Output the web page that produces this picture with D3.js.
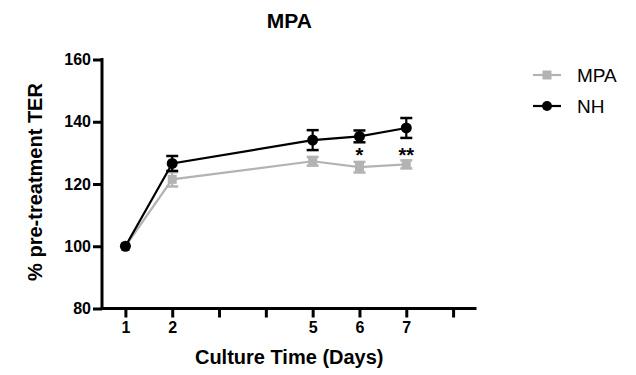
<!DOCTYPE html>
<html>
<head>
<meta charset="utf-8">
<script src="https://cdn.jsdelivr.net/npm/d3@7"></script>
<style>
  body { margin: 0; background: #fff; }
  svg text { font-family: Arial, 'Liberation Sans', Helvetica, sans-serif; }
</style>
</head>
<body>
<div id="chart"></div>
<script>
// ----------- DATA ------------
const days = [1, 2, 5, 6, 7];
const mpaMean = [100, 121.5, 127.3, 125.4, 126.3];
const mpaErr = [0.6, 2.3, 1.4, 1.7, 1.3];
const nhMean = [100, 126.6, 134.1, 135.3, 138.0];
const nhErr = [0.6, 2.4, 3.2, 1.9, 3.2];
const xTicks = [1, 2, 3, 4, 5, 6, 7, 8];
const xTickLabels = { 1: '1', 2: '2', 5: '5', 6: '6', 7: '7' };
const yTicks = [80, 100, 120, 140, 160];
const stars = [{ day: 6, text: '*' }, { day: 7, text: '**' }];

const width = 636, height = 375;
const margin = { left: 102, right: 160, top: 60, bottom: 67 };

const svg = d3.select('#chart').append('svg')
  .attr('width', width).attr('height', height);

const x = d3.scaleLinear().domain([0.5, 8.5]).range([margin.left, width - margin.right + 0.5]);
const y = d3.scaleLinear().domain([80, 160]).range([height - margin.bottom + 0.5, margin.top - 0.5]);

const series = [
  { key: 'MPA', color: '#b3b3b3', mean: mpaMean, err: mpaErr, shape: 'square' },
  { key: 'NH', color: '#000000', mean: nhMean, err: nhErr, shape: 'circle' },
];

// ----------- AXES ------------
const xAxis = svg.append('g')
  .attr('transform', `translate(0, ${y(80)})`)
  .call(d3.axisBottom(x).tickValues(xTicks).tickSize(9).tickPadding(4)
    .tickFormat(d => xTickLabels[d] || ''));
xAxis.select('.domain').attr('stroke-width', 3).attr('d', `M${x(0.5) - 1.5},0H${x(8.5)}`);
xAxis.selectAll('.tick line').attr('stroke-width', 3);
xAxis.selectAll('.tick text').attr('font-size', 16).attr('font-weight', 'bold').attr('fill', '#000');

const yAxis = svg.append('g')
  .attr('transform', `translate(${x(0.5)}, 0)`)
  .call(d3.axisLeft(y).tickValues(yTicks).tickSize(9).tickPadding(2));
yAxis.select('.domain').attr('stroke-width', 3).attr('d', `M0,${y(160) - 1.5}V${y(80) + 1.5}`);
yAxis.selectAll('.tick line').attr('stroke-width', 3);
yAxis.selectAll('.tick text').attr('font-size', 16).attr('font-weight', 'bold').attr('fill', '#000');

// ----------- LINES ------------
const line = d3.line().x(d => x(d.day)).y(d => y(d.v));

series.forEach(s => {
  const pts = days.map((d, i) => ({ day: d, v: s.mean[i], e: s.err[i] }));
  const g = svg.append('g').attr('class', 'series ' + s.key);

  g.append('path').datum(pts)
    .attr('d', line).attr('fill', 'none')
    .attr('stroke', s.color).attr('stroke-width', 2.2);

  // error bars
  const eb = g.selectAll('.err').data(pts.slice(1)).enter().append('g');
  eb.append('line')
    .attr('x1', d => x(d.day)).attr('x2', d => x(d.day))
    .attr('y1', d => y(d.v + d.e)).attr('y2', d => y(d.v - d.e))
    .attr('stroke', s.color).attr('stroke-width', 2.2);
  [1, -1].forEach(sign => {
    eb.append('line')
      .attr('x1', d => x(d.day) - 6).attr('x2', d => x(d.day) + 6)
      .attr('y1', d => y(d.v + sign * d.e)).attr('y2', d => y(d.v + sign * d.e))
      .attr('stroke', s.color).attr('stroke-width', 2.5);
  });

  // markers
  if (s.shape === 'square') {
    g.selectAll('.mk').data(pts).enter().append('rect')
      .attr('x', d => x(d.day) - 4.5).attr('y', d => y(d.v) - 4.5)
      .attr('width', 9).attr('height', 9).attr('fill', s.color);
  } else {
    g.selectAll('.mk').data(pts).enter().append('circle')
      .attr('cx', d => x(d.day)).attr('cy', d => y(d.v))
      .attr('r', 5.5).attr('fill', s.color);
  }
});

// ----------- SIGNIFICANCE ------------
svg.selectAll('.star').data(stars).enter().append('text')
  .attr('x', d => x(d.day)).attr('y', 162)
  .attr('text-anchor', 'middle').attr('font-size', 20).attr('font-weight', 'bold')
  .text(d => d.text);

// ----------- TITLES ------------
svg.append('text')
  .attr('x', (x(0.5) + x(8.5)) / 2).attr('y', 28)
  .attr('text-anchor', 'middle').attr('font-size', 21).attr('font-weight', 'bold')
  .text('MPA');

svg.append('text')
  .attr('x', (x(0.5) + x(8.5)) / 2).attr('y', 364)
  .attr('text-anchor', 'middle').attr('font-size', 20).attr('font-weight', 'bold')
  .text('Culture Time (Days)');

svg.append('text')
  .attr('transform', `translate(42, ${(y(80) + y(160)) / 2 - 2}) rotate(-90)`)
  .attr('text-anchor', 'middle').attr('font-size', 20).attr('font-weight', 'bold')
  .text('% pre-treatment TER');

// ----------- LEGEND ------------
const legend = svg.append('g').attr('transform', 'translate(533, 75)');
series.forEach((s, i) => {
  const row = legend.append('g').attr('transform', `translate(0, ${i * 31})`);
  row.append('line').attr('x1', 0).attr('x2', 28).attr('y1', 0).attr('y2', 0)
    .attr('stroke', s.color).attr('stroke-width', 2.2);
  if (s.shape === 'square') {
    row.append('rect').attr('x', 9.5).attr('y', -4.5).attr('width', 9).attr('height', 9).attr('fill', s.color);
  } else {
    row.append('circle').attr('cx', 14).attr('cy', 0).attr('r', 5).attr('fill', s.color);
  }
  row.append('text').attr('x', 44).attr('y', 7)
    .attr('font-size', 19).attr('fill', '#000').text(s.key);
});
</script>
</body>
</html>
